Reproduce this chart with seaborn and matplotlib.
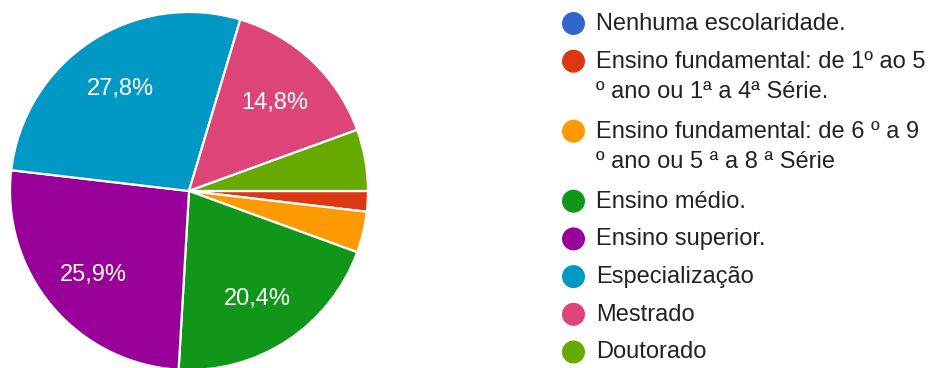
import matplotlib
matplotlib.use("Agg")
import matplotlib.pyplot as plt
from matplotlib.transforms import offset_copy
import seaborn as sns

categories = [
    "Nenhuma escolaridade.",
    "Ensino fundamental: de 1º ao 5\nº ano ou 1ª a 4ª Série.",
    "Ensino fundamental: de 6 º a 9\nº ano ou 5 ª a 8 ª Série",
    "Ensino médio.",
    "Ensino superior.",
    "Especialização",
    "Mestrado",
    "Doutorado",
]
counts = [0, 1, 2, 11, 14, 15, 8, 3]
colors = ["#3366cc", "#dc3912", "#ff9900", "#109618", "#990099", "#0099c6", "#dd4477", "#66aa00"]

sns.set_theme(style="white")
plt.rcParams["font.family"] = ["Liberation Sans", "DejaVu Sans"]

W, H = 932, 368
fig = plt.figure(figsize=(W / 100, H / 100), dpi=100)
fig.patch.set_facecolor("white")

# pie: center (189,191) px from top-left, radius 179 px
cx, cy, r = 189, 191, 179
ax = fig.add_axes([(cx - r) / W, (H - cy - r) / H, 2 * r / W, 2 * r / H])

def fmt(p):
    return (f"{p:.1f}%".replace(".", ",")) if p > 6 else ""

wedges, texts, autotexts = ax.pie(
    counts, colors=colors, startangle=0, counterclock=False, radius=1,
    autopct=fmt, pctdistance=0.7,
    wedgeprops=dict(edgecolor="white", linewidth=1.6),
    textprops=dict(color="white", fontsize=17),
)
for w in wedges:
    w.set_clip_on(False)
for at in autotexts:
    at.set_transform(offset_copy(at.get_transform(), fig=fig, y=-3, units="dots"))
ax.set_xlim(-1, 1)
ax.set_ylim(-1, 1)
ax.set_aspect("equal")
ax.axis("off")

# legend drawn in a pixel-space axes
lax = fig.add_axes([0, 0, 1, 1])
lax.set_xlim(0, W)
lax.set_ylim(H, 0)
lax.axis("off")
lax.patch.set_alpha(0)

y = 23.5
item_pitch = 37.7
wrap_extra = 32.3
for lab, col in zip(categories, colors):
    lax.scatter([573.5], [y], s=(23 * 0.72) ** 2, color=col, edgecolors="none")
    lines = lab.split("\n")
    for i, line in enumerate(lines):
        lax.text(596, y + i * 30 + 0.5, line, fontsize=17, color="#222222",
                 va="center", ha="left")
    y += item_pitch + (len(lines) - 1) * wrap_extra

fig.savefig("out.png", dpi=100, facecolor="white")
